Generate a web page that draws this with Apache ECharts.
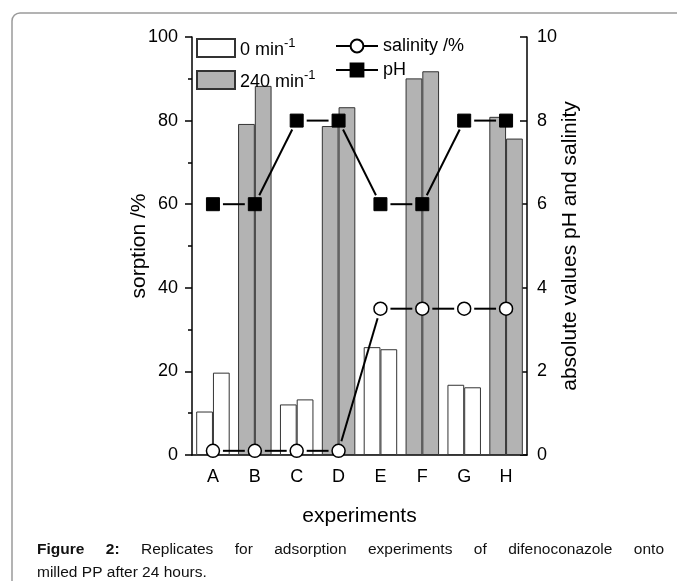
<!DOCTYPE html>
<html><head><meta charset="utf-8">
<script src="https://cdn.jsdelivr.net/npm/echarts@6/dist/echarts.min.js"></script>
<style>html,body{margin:0;padding:0;background:#fff}#c{width:677px;height:581px}</style>
</head><body><div id="c"></div>
<script>
// ---- data ----
const categories = ['A','B','C','D','E','F','G','H'];
const treatment = ['0 min-1','240 min-1','0 min-1','240 min-1','0 min-1','240 min-1','0 min-1','240 min-1'];
const replicate1 = [10.4, 79.2, 12.1, 78.7, 25.8, 90.1, 16.8, 80.9];
const replicate2 = [19.7, 88.3, 13.3, 83.2, 25.3, 91.8, 16.2, 75.7];
const salinity = [0.1, 0.1, 0.1, 0.1, 3.5, 3.5, 3.5, 3.5];
const pH = [6, 6, 8, 8, 6, 6, 8, 8];
const sorptionTicks = [0, 20, 40, 60, 80, 100];
const rightTicks = [0, 2, 4, 6, 8, 10];
const captionLine1 = ['Figure', '2:', 'Replicates', 'for', 'adsorption', 'experiments', 'of', 'difenoconazole', 'onto'];
const captionBold = 2;
const captionLine2 = 'milled PP after 24 hours.';

const FONT = '"Liberation Sans", Arial, sans-serif';
const chart = echarts.init(document.getElementById('c'), null, {renderer: 'canvas'});

function mask(vals, t) { return vals.map((v, i) => treatment[i] === t ? v : '-'); }

const barBase = {type: 'bar', barGap: '0%', barCategoryGap: '20%', z: 2, animation: false};
const whiteStyle = {color: '#ffffff', borderColor: '#333', borderWidth: 1};
const grayStyle = {color: '#b3b3b3', borderColor: '#333', borderWidth: 1};

function segSeries(vals) {
  return {
    type: 'custom', yAxisIndex: 1, z: 3, silent: true, animation: false,
    data: vals.map((v, i) => [i, v]),
    renderItem: function (params, api) {
      const i = params.dataIndex;
      if (i >= vals.length - 1) return null;
      const a = api.coord([i, vals[i]]);
      const b = api.coord([i + 1, vals[i + 1]]);
      const dx = b[0] - a[0], dy = b[1] - a[1], L = Math.hypot(dx, dy), g = 10;
      return {type: 'line', shape: {x1: a[0] + dx * g / L, y1: a[1] + dy * g / L, x2: b[0] - dx * g / L, y2: b[1] - dy * g / L},
        style: {stroke: '#000', lineWidth: 2}};
    }
  };
}

// caption words justified
const CAP = 15.5;
const ctx = document.createElement('canvas').getContext('2d');
function tw(t, bold) { ctx.font = (bold ? 'bold ' : '') + CAP + 'px "Liberation Sans"'; return ctx.measureText(t).width; }
const capX0 = 37, capX1 = 664;
const widths = captionLine1.map((w, i) => tw(w, i < captionBold));
const gap = (capX1 - capX0 - widths.reduce((a, b) => a + b, 0)) / (captionLine1.length - 1);
const graphics = [{type: 'rect', shape: {x: 12, y: 13, width: 680, height: 620, r: 8}, style: {fill: null, stroke: '#9a9a9a', lineWidth: 1.5}, silent: true}];
let cx = capX0;
captionLine1.forEach((w, i) => {
  graphics.push({type: 'text', style: {text: w, x: cx, y: 550, fill: '#111', font: (i < captionBold ? 'bold ' : '') + CAP + 'px ' + FONT, verticalAlign: 'middle', align: 'left'}});
  cx += widths[i] + gap;
});
graphics.push({type: 'text', style: {text: captionLine2, x: capX0, y: 573, fill: '#111', font: CAP + 'px ' + FONT, verticalAlign: 'middle', align: 'left'}});

const axisLineStyle = {color: '#000', width: 1.5};
const labelStyle = {color: '#000', fontSize: 18, fontFamily: FONT};
const nameStyle = {color: '#000', fontSize: 21, fontFamily: FONT};

const option = {
  animation: false,
  backgroundColor: '#fff',
  grid: {left: 192, right: 150, top: 37, bottom: 126, containLabel: false},
  legend: [
    {data: ['0 min-1', '240 min-1'], orient: 'vertical', left: 196, top: 37, padding: 0, itemWidth: 38, itemHeight: 18, itemGap: 10,
      icon: 'rect', selectedMode: false,
      formatter: n => '{n|' + n.replace('-1', '') + '}{sup|-1}',
      textStyle: {color: '#000', fontFamily: FONT, rich: {n: {fontSize: 18, lineHeight: 22, verticalAlign: 'bottom', fontFamily: FONT}, sup: {fontSize: 13, lineHeight: 13, verticalAlign: 'top', fontFamily: FONT}}}},
    {data: ['salinity /%', 'pH'], orient: 'vertical', left: 335, top: 37, padding: 0, itemWidth: 42, itemHeight: 16, itemGap: 6,
      selectedMode: false, lineStyle: {width: 2, color: '#000', opacity: 1},
      textStyle: {color: '#000', fontSize: 18, fontFamily: FONT}}
  ],
  xAxis: [
    {type: 'category', data: categories, position: 'bottom',
      axisLine: {lineStyle: axisLineStyle},
      axisTick: {alignWithLabel: true, length: 7, lineStyle: axisLineStyle},
      axisLabel: Object.assign({margin: 13}, labelStyle),
      name: 'experiments', nameLocation: 'middle', nameGap: 51, nameTextStyle: nameStyle},
    {type: 'category', data: categories, position: 'bottom',
      axisLine: {show: false}, axisLabel: {show: false},
      axisTick: {length: 4, lineStyle: axisLineStyle}}
  ],
  yAxis: [
    {type: 'value', position: 'left', min: sorptionTicks[0], max: sorptionTicks[sorptionTicks.length - 1], interval: sorptionTicks[1] - sorptionTicks[0],
      axisLine: {show: true, lineStyle: axisLineStyle},
      axisTick: {show: true, length: 7, lineStyle: axisLineStyle},
      minorTick: {show: true, splitNumber: 2, length: 4, lineStyle: axisLineStyle},
      splitLine: {show: false},
      axisLabel: Object.assign({margin: 14}, labelStyle),
      name: 'sorption /%', nameLocation: 'middle', nameGap: 42, nameMoveOverlap: false, nameTextStyle: nameStyle},
    {type: 'value', position: 'right', min: rightTicks[0], max: rightTicks[rightTicks.length - 1], interval: rightTicks[1] - rightTicks[0],
      axisLine: {show: true, lineStyle: axisLineStyle},
      axisTick: {show: true, inside: true, length: 7, lineStyle: axisLineStyle},
      splitLine: {show: false},
      axisLabel: Object.assign({margin: 10}, labelStyle),
      name: 'absolute values pH and salinity', nameLocation: 'middle', nameGap: 33, nameMoveOverlap: false, nameTextStyle: nameStyle}
  ],
  series: [
    Object.assign({}, barBase, {name: '0 min-1', stack: 'r1', data: mask(replicate1, '0 min-1'), itemStyle: whiteStyle}),
    Object.assign({}, barBase, {name: '0 min-1', stack: 'r2', data: mask(replicate2, '0 min-1'), itemStyle: whiteStyle}),
    Object.assign({}, barBase, {name: '240 min-1', stack: 'r1', data: mask(replicate1, '240 min-1'), itemStyle: grayStyle}),
    Object.assign({}, barBase, {name: '240 min-1', stack: 'r2', data: mask(replicate2, '240 min-1'), itemStyle: grayStyle}),
    segSeries(salinity),
    segSeries(pH),
    {type: 'line', name: 'salinity /%', yAxisIndex: 1, data: salinity, symbol: 'circle', symbolSize: 13, showAllSymbol: true,
      lineStyle: {width: 0}, itemStyle: {color: '#fff', borderColor: '#000', borderWidth: 1.5}, z: 4},
    {type: 'line', name: 'pH', yAxisIndex: 1, data: pH, symbol: 'rect', symbolSize: 13, showAllSymbol: true,
      lineStyle: {width: 0}, itemStyle: {color: '#000', borderColor: '#000', borderWidth: 1}, z: 4}
  ],
  graphic: graphics
};
chart.setOption(option);
</script>
</body></html>
